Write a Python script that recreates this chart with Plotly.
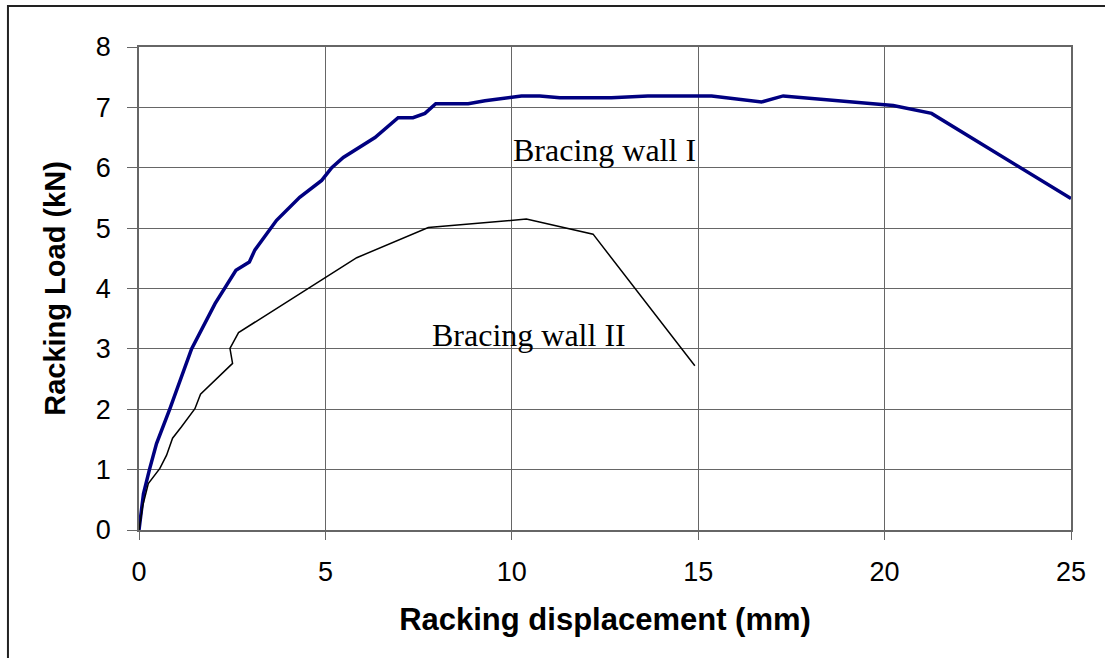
import plotly.graph_objects as go

# Bracing wall I (thick navy curve)
wall1_x = [0, 0.12, 0.28, 0.47, 0.83, 1.41, 2.04, 2.6, 2.96, 3.11, 3.69, 4.31, 4.9, 5.17,
           5.48, 5.88, 6.33, 6.95, 7.35, 7.67, 7.96, 8.83, 9.28, 10.26, 10.75, 11.29,
           12.67, 13.65, 15.36, 16.7, 17.28, 20.23, 21.26, 25.0]
wall1_y = [0, 0.6, 1.0, 1.43, 2.01, 3.0, 3.75, 4.3, 4.44, 4.64, 5.13, 5.51, 5.79, 6.0,
           6.17, 6.32, 6.5, 6.83, 6.83, 6.9, 7.06, 7.06, 7.11, 7.19, 7.19, 7.16,
           7.16, 7.19, 7.19, 7.09, 7.19, 7.03, 6.9, 5.49]

# Bracing wall II (thin black curve)
wall2_x = [0, 0.1, 0.25, 0.56, 0.74, 0.9, 1.14, 1.5, 1.65, 2.51, 2.44, 2.67, 5.84,
           7.76, 10.39, 12.18, 14.91]
wall2_y = [0, 0.4, 0.77, 1.02, 1.24, 1.52, 1.71, 2.01, 2.25, 2.76, 3.01, 3.27, 4.51,
           5.01, 5.15, 4.9, 2.72]

x_ticks = [0, 5, 10, 15, 20, 25]
y_ticks = [0, 1, 2, 3, 4, 5, 6, 7, 8]

x_title = "Racking displacement (mm)"
y_title = "Racking Load (kN)"
label1 = "Bracing wall I"
label2 = "Bracing wall II"

fig = go.Figure()
fig.add_trace(go.Scatter(x=wall1_x, y=wall1_y, mode="lines",
                         line=dict(color="#000080", width=3.5), showlegend=False))
fig.add_trace(go.Scatter(x=wall2_x, y=wall2_y, mode="lines",
                         line=dict(color="#000000", width=1.5), showlegend=False))

fig.add_annotation(x=9.97, y=6.3, xref="x", yref="y", text=label1, showarrow=False,
                   xanchor="left", yanchor="middle",
                   font=dict(family="Liberation Serif", size=32, color="black"))
fig.add_annotation(x=7.80, y=3.23, xref="x", yref="y", text=label2, showarrow=False,
                   xanchor="left", yanchor="middle",
                   font=dict(family="Liberation Serif", size=32, color="black"))

# outer frame (only top and left edges visible in the image)
fig.add_shape(type="rect", xref="paper", yref="paper",
              x0=-0.1406, x1=1.1, y0=-0.3, y1=1.0849,
              line=dict(color="#222222", width=2), layer="below")

axis_common = dict(showgrid=True, gridcolor="#666666", gridwidth=1,
                   showline=True, linecolor="#666666", linewidth=1.5, mirror=True,
                   ticks="outside", tickcolor="#666666", zeroline=False,
                   tickfont=dict(family="Liberation Sans", size=27, color="black"))

fig.update_xaxes(range=[0, 25], tickvals=x_ticks, ticklen=8, ticklabelstandoff=9,
                 title=dict(text="<b>" + x_title + "</b>", standoff=22,
                            font=dict(family="Liberation Sans", size=31, color="black")),
                 **axis_common)
fig.update_yaxes(range=[0, 8], tickvals=y_ticks, ticklen=10, ticklabelstandoff=11,
                 title=dict(text="<b>" + y_title + "</b>", standoff=22,
                            font=dict(family="Liberation Sans", size=29, color="black")),
                 **axis_common)

fig.update_layout(width=1105, height=658,
                  margin=dict(l=139, r=34, t=47, b=128),
                  plot_bgcolor="white", paper_bgcolor="white")

fig.write_html("out.html", config={"displayModeBar": False},
               post_script="document.body.style.margin='0';")
